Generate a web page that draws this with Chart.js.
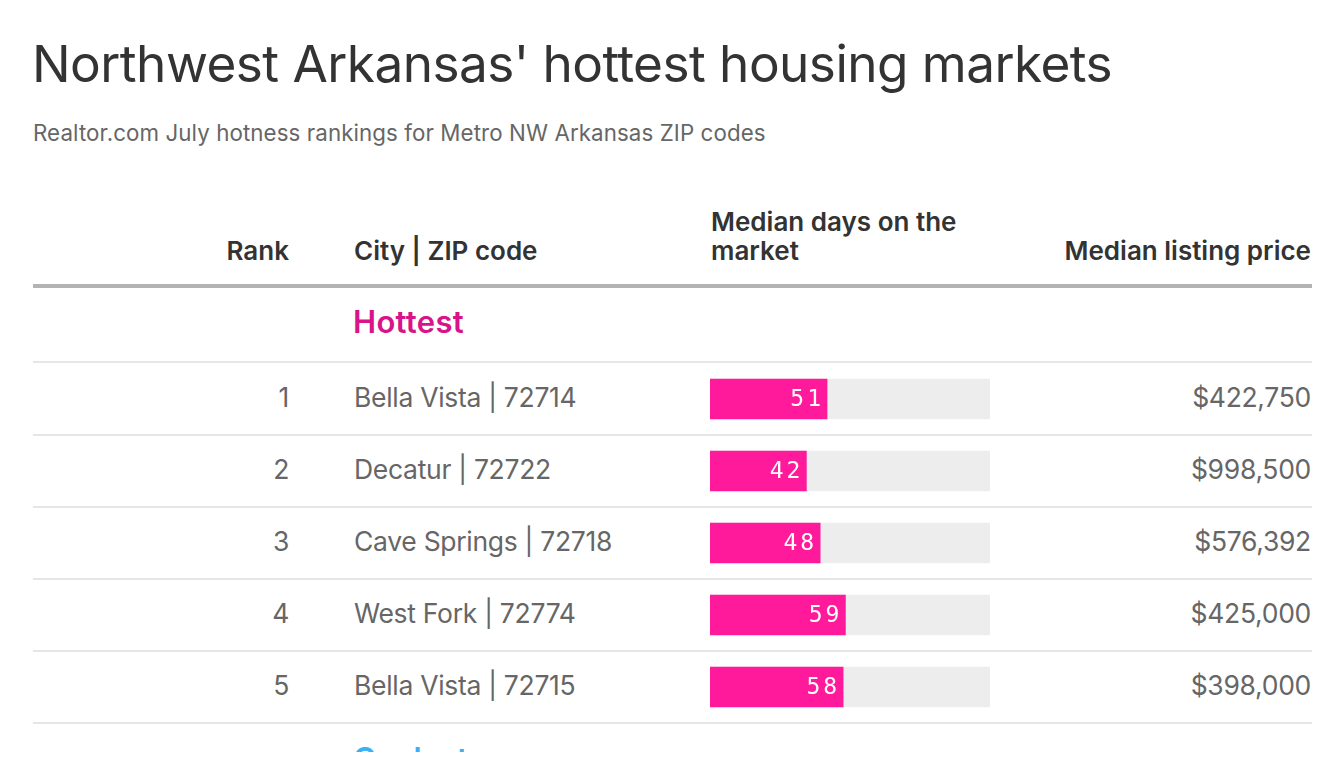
<!DOCTYPE html>
<html>
<head>
<meta charset="utf-8">
<script src="https://cdn.jsdelivr.net/npm/chart.js@4"></script>
<style>
  html, body { margin: 0; padding: 0; background: #fff; }
  body { width: 1344px; height: 784px; position: relative; overflow: hidden; font-family: Inter, "Noto Sans", sans-serif; }
  .abs { position: absolute; white-space: nowrap; }
  #title { left: 32px; top: 32px; font-size: 51.3px; color: #333; letter-spacing: -0.55px; }
  #subtitle { left: 33px; top: 119px; font-size: 22.3px; color: #666; letter-spacing: 0.1px; }
  .head { font-weight: 600; font-size: 26px; color: #333; line-height: 29px; letter-spacing: 0; }
  .rule { position: absolute; left: 33px; width: 1279px; height: 2px; background: #e6e6e6; }
  #thick { position: absolute; left: 33px; width: 1279px; top: 284px; height: 4px; background: #b3b3b3; }
  #hottest { left: 353px; top: 303px; font-size: 31px; font-weight: 600; color: #d9138a; letter-spacing: 0.3px; }
  #coolest { left: 353px; top: 741px; font-size: 31px; font-weight: 600; color: #3ab0f5; height: 11px; overflow: hidden; line-height: 36px; }
  .cell { font-size: 26.5px; color: #666; line-height: 30px; letter-spacing: -0.3px; }
  .right { text-align: right; }
  #bars { position: absolute; left: 710px; top: 363px; width: 280px; height: 360px; }
</style>
</head>
<body>
<div id="title" class="abs">Northwest Arkansas' hottest housing markets</div>
<div id="subtitle" class="abs">Realtor.com July hotness rankings for Metro NW Arkansas ZIP codes</div>

<div class="abs head right" style="left:189px; width:100px; top:236px;">Rank</div>
<div class="abs head" style="left:354px; top:236px;">City | ZIP code</div>
<div class="abs head" style="left:711px; top:207px;">Median days on the<br>market</div>
<div class="abs head right" style="left:1011px; width:300px; top:236px;">Median listing price</div>
<div id="thick"></div>

<div id="hottest" class="abs">Hottest</div>
<div id="rows"></div>
<div id="coolest" class="abs">Coolest</div>

<div id="bars"><canvas id="daysChart"></canvas></div>

<script>
const ranks = ['1', '2', '3', '4', '5'];
const cities = ['Bella Vista | 72714', 'Decatur | 72722', 'Cave Springs | 72718', 'West Fork | 72774', 'Bella Vista | 72715'];
const medianDays = [51, 42, 48, 59, 58];
const prices = ['$422,750', '$998,500', '$576,392', '$425,000', '$398,000'];
const daysMax = 122;

const ROW_TOP = 363;
const ROW_H = 72;

// table text and row rules
const rowsDiv = document.getElementById('rows');
let html = `<div class="rule" style="top:361px"></div>`;
ranks.forEach((r, i) => {
  const mid = ROW_TOP + ROW_H * i + ROW_H / 2 - 2;
  html += `<div class="abs cell right" style="left:189px; width:100px; top:${mid - 15}px">${r}</div>`;
  html += `<div class="abs cell" style="left:354px; top:${mid - 15}px">${cities[i]}</div>`;
  html += `<div class="abs cell right" style="left:1011px; width:300px; top:${mid - 15}px">${prices[i]}</div>`;
  html += `<div class="rule" style="top:${ROW_TOP + ROW_H * (i + 1) - 1}px"></div>`;
});
rowsDiv.innerHTML = html;

const barLabels = {
  id: 'barLabels',
  afterDatasetsDraw(chart) {
    const ctx = chart.ctx;
    const meta = chart.getDatasetMeta(1);
    ctx.save();
    ctx.font = '23px "DejaVu Sans Mono", monospace';
    ctx.letterSpacing = '3px';
    ctx.fillStyle = '#fff';
    ctx.textAlign = 'right';
    ctx.textBaseline = 'middle';
    meta.data.forEach((bar, i) => {
      ctx.fillText(String(medianDays[i]), bar.x - 3, bar.y + 1);
    });
    ctx.restore();
  }
};

new Chart(document.getElementById('daysChart').getContext('2d'), {
  type: 'bar',
  data: {
    labels: cities,
    datasets: [
      {
        label: 'track',
        data: medianDays.map(() => daysMax),
        backgroundColor: '#ededed',
        barThickness: 40,
        grouped: false,
        order: 2
      },
      {
        label: 'Median days on the market',
        data: medianDays,
        backgroundColor: '#ff1a9b',
        barThickness: 40,
        grouped: false,
        order: 1
      }
    ]
  },
  options: {
    indexAxis: 'y',
    responsive: true,
    maintainAspectRatio: false,
    animation: false,
    layout: { padding: 0 },
    plugins: { legend: { display: false }, tooltip: { enabled: false } },
    scales: {
      x: { display: false, min: 0, max: daysMax },
      y: { display: false }
    }
  },
  plugins: [barLabels]
});
</script>
</body>
</html>
